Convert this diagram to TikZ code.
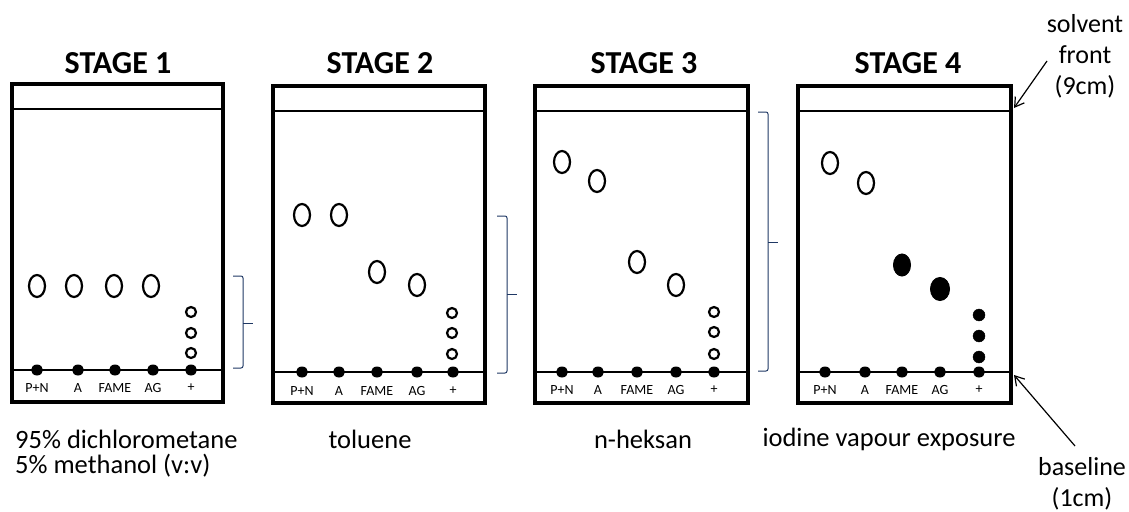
\documentclass[tikz,border=0pt]{standalone}
\usepackage{fontspec}
\setmainfont{Carlito}
\usetikzlibrary{shapes.geometric,arrows.meta}
\definecolor{navy}{RGB}{31,56,100}
\tikzset{
  plate/.style={draw, line width=3.6pt},
  fline/.style={line width=1.1pt},
  ospot/.style={ellipse, draw, line width=2.2pt, minimum width=16pt, minimum height=22pt, inner sep=0pt},
  fspot/.style={ellipse, fill, draw, line width=1pt, minimum width=17pt, minimum height=22pt, inner sep=0pt},
  osmall/.style={circle, draw, line width=2.2pt, minimum size=10pt, inner sep=0pt},
  fsmall/.style={circle, fill, draw, minimum size=12pt, inner sep=0pt},
  bdot/.style={ellipse, fill, minimum width=12pt, minimum height=11pt, inner sep=0pt},
  lanelbl/.style={font=\fontsize{14}{15}\selectfont, inner sep=0pt},
  stitle/.style={font=\bfseries\fontsize{32}{34}\selectfont, inner sep=0pt},
  caption/.style={font=\fontsize{26.5}{29}\selectfont, inner sep=0pt},
  sidelbl/.style={font=\fontsize{26}{31}\selectfont, align=center, inner sep=0pt},
  bracket/.style={draw=navy, line width=1pt, rounded corners=2pt},
  pointer/.style={draw, line width=1.2pt, -{Straight Barb[length=9pt,width=11pt]}}
}
\begin{document}
\begin{tikzpicture}[x=1pt,y=-1pt]
\useasboundingbox (0,0) rectangle (1129,511);

% ---------- STAGE 1 ----------
\node[stitle] (t1) at (118,63) {STAGE 1};
\draw[plate] (12,84) rectangle (223,402);
\draw[fline] (12,109) -- (223,109);
\draw[fline] (12,370) -- (223,370);
\foreach \x/\l/\n in {37/P+N/a,78/A/b,115/FAME/c,153/AG/d,191/+/e}{
  \node[bdot] (b1\n) at (\x,370) {};
  \node[lanelbl] (l1\n) at (\x,388) {\l};
}
\node[ospot] (s1a) at (37,286) {};
\node[ospot] (s1b) at (74,286) {};
\node[ospot] (s1c) at (114,286) {};
\node[ospot] (s1d) at (151,286) {};
\node[osmall] (s1e1) at (191,312) {};
\node[osmall] (s1e2) at (191,333) {};
\node[osmall] (s1e3) at (191,353) {};
\draw[bracket] (233,276) -- (243,276) -- (243,368) -- (233,368);
\draw[navy, line width=1pt] (243,323) -- (253,323);
\node[caption, anchor=west] (c1a) at (15,439) {95\% dichlorometane};
\node[caption, anchor=west] (c1b) at (15,466) {5\% methanol (v:v)};

% ---------- STAGE 2 ----------
\node[stitle] (t2) at (380,63) {STAGE 2};
\draw[plate] (273,86) rectangle (485,403);
\draw[fline] (273,111) -- (485,111);
\draw[fline] (273,372) -- (485,372);
\foreach \x/\l/\n in {302/P+N/a,339/A/b,377/FAME/c,417/AG/d,453/+/e}{
  \node[bdot] (b2\n) at (\x,372) {};
  \node[lanelbl] (l2\n) at (\x,391) {\l};
}
\node[ospot] (s2a) at (302,215) {};
\node[ospot] (s2b) at (339,215) {};
\node[ospot] (s2c) at (377,272) {};
\node[ospot] (s2d) at (417,285) {};
\node[osmall] (s2e1) at (452,313) {};
\node[osmall] (s2e2) at (452,333) {};
\node[osmall] (s2e3) at (452,354) {};
\draw[bracket] (497,216) -- (507,216) -- (507,373) -- (497,373);
\draw[navy, line width=1pt] (507,294) -- (517,294);
\node[caption] (c2) at (370,439) {toluene};

% ---------- STAGE 3 ----------
\node[stitle] (t3) at (644,63) {STAGE 3};
\draw[plate] (535,86) rectangle (748,403);
\draw[fline] (535,111) -- (748,111);
\draw[fline] (535,372) -- (748,372);
\foreach \x/\l/\n in {562/P+N/a,598/A/b,637/FAME/c,676/AG/d,714/+/e}{
  \node[bdot] (b3\n) at (\x,372) {};
  \node[lanelbl] (l3\n) at (\x,390) {\l};
}
\node[ospot] (s3a) at (562,162) {};
\node[ospot] (s3b) at (597,181) {};
\node[ospot] (s3c) at (637,262) {};
\node[ospot] (s3d) at (676,285) {};
\node[osmall] (s3e1) at (714,312) {};
\node[osmall] (s3e2) at (714,332) {};
\node[osmall] (s3e3) at (714,354) {};
\draw[bracket] (758,112) -- (768,112) -- (768,371) -- (758,371);
\draw[navy, line width=1pt] (768,242) -- (778,242);
\node[caption] (c3) at (643,439) {n-heksan};

% ---------- STAGE 4 ----------
\node[stitle] (t4) at (908,63) {STAGE 4};
\draw[plate] (798,86) rectangle (1011,403);
\draw[fline] (798,111) -- (1011,111);
\draw[fline] (798,372) -- (1011,372);
\foreach \x/\l/\n in {825/P+N/a,865/A/b,902/FAME/c,940/AG/d,979/+/e}{
  \node[bdot] (b4\n) at (\x,372) {};
  \node[lanelbl] (l4\n) at (\x,390) {\l};
}
\node[ospot] (s4a) at (830,163) {};
\node[ospot] (s4b) at (866,183) {};
\node[fspot] (s4c) at (902,265) {};
\node[fspot, minimum width=19pt, minimum height=23pt] (s4d) at (940,289) {};
\node[fsmall] (s4e1) at (979,315) {};
\node[fsmall] (s4e2) at (979,336) {};
\node[fsmall] (s4e3) at (979,357) {};
\node[caption] (c4) at (889,439) {iodine vapour exposure};

% ---------- side labels ----------
\node[sidelbl] (sf) at (1085,56) {solvent\\front\\(9cm)};
\coordinate (sfs) at (1047,61);
\coordinate (sfe) at (1014,108);
\draw[pointer] (sfs) -- (sfe);
\node[sidelbl] (bl) at (1082,484) {baseline\\(1cm)};
\coordinate (bls) at (1075,446);
\coordinate (ble) at (1014,375);
\draw[pointer] (bls) -- (ble);
\end{tikzpicture}
\end{document}
